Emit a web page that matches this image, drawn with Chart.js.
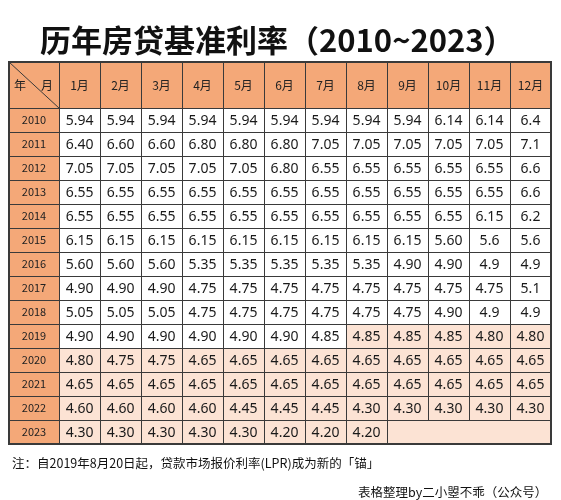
<!DOCTYPE html>
<html><head><meta charset="utf-8">
<script src="https://cdn.jsdelivr.net/npm/chart.js@4/dist/chart.umd.min.js"></script>
<style>
body{margin:0;background:#fff;width:561px;height:500px;overflow:hidden;font-family:"Noto Sans CJK SC",sans-serif;}
#wrap{position:absolute;left:0;top:0;width:561px;height:500px;}
.t{position:absolute;white-space:nowrap;color:#111;}
</style></head><body>
<div id="wrap"><canvas id="c" width="561" height="500"></canvas></div>
<div class="t" style="left:40px;top:16px;font-size:31px;font-weight:bold;">历年房贷基准利率（2010~2023）</div>
<div class="t" style="left:12px;top:453px;font-size:12.5px;">注：自2019年8月20日起，贷款市场报价利率(LPR)成为新的「锚」</div>
<div class="t" style="left:358px;top:482px;font-size:12.5px;">表格整理by二小曌不乖（公众号）</div>
<script>
const months = ["1月","2月","3月","4月","5月","6月","7月","8月","9月","10月","11月","12月"];
const years = ["2010","2011","2012","2013","2014","2015","2016","2017","2018","2019","2020","2021","2022","2023"];
const r2010 = ["5.94","5.94","5.94","5.94","5.94","5.94","5.94","5.94","5.94","6.14","6.14","6.4"];
const r2011 = ["6.40","6.60","6.60","6.80","6.80","6.80","7.05","7.05","7.05","7.05","7.05","7.1"];
const r2012 = ["7.05","7.05","7.05","7.05","7.05","6.80","6.55","6.55","6.55","6.55","6.55","6.6"];
const r2013 = ["6.55","6.55","6.55","6.55","6.55","6.55","6.55","6.55","6.55","6.55","6.55","6.6"];
const r2014 = ["6.55","6.55","6.55","6.55","6.55","6.55","6.55","6.55","6.55","6.55","6.15","6.2"];
const r2015 = ["6.15","6.15","6.15","6.15","6.15","6.15","6.15","6.15","6.15","5.60","5.6","5.6"];
const r2016 = ["5.60","5.60","5.60","5.35","5.35","5.35","5.35","5.35","4.90","4.90","4.9","4.9"];
const r2017 = ["4.90","4.90","4.90","4.75","4.75","4.75","4.75","4.75","4.75","4.75","4.75","5.1"];
const r2018 = ["5.05","5.05","5.05","4.75","4.75","4.75","4.75","4.75","4.75","4.90","4.9","4.9"];
const r2019 = ["4.90","4.90","4.90","4.90","4.90","4.90","4.85","4.85","4.85","4.85","4.80","4.80"];
const r2020 = ["4.80","4.75","4.75","4.65","4.65","4.65","4.65","4.65","4.65","4.65","4.65","4.65"];
const r2021 = ["4.65","4.65","4.65","4.65","4.65","4.65","4.65","4.65","4.65","4.65","4.65","4.65"];
const r2022 = ["4.60","4.60","4.60","4.60","4.45","4.45","4.45","4.30","4.30","4.30","4.30","4.30"];
const r2023 = ["4.30","4.30","4.30","4.30","4.30","4.20","4.20","4.20","","","",""];
const rates = [r2010,r2011,r2012,r2013,r2014,r2015,r2016,r2017,r2018,r2019,r2020,r2021,r2022,r2023];
const lprStartYear = 9, lprStartMonth = 7; // 2019, Aug

const YC = 1.22;  // year column width in month units
const HR = 1.92;  // header row height in row units
const ORANGE="#F4A878", PINK="#FCE3D4", LINE="#3a3a3a";
const pts=[];
rates.forEach((row,yi)=>row.forEach((v,mi)=>{ if(v!=="") pts.push({x:YC+mi+0.5,y:HR+yi+0.5,v:parseFloat(v),label:v}); }));

const tablePlugin={id:"table",beforeDatasetsDraw(chart){
  const {ctx,scales:{x,y}}=chart;
  const X=v=>x.getPixelForValue(v), Y=v=>y.getPixelForValue(v);
  const XR=YC+12, YB=HR+14;
  ctx.save();
  ctx.fillStyle=ORANGE; ctx.fillRect(X(0),Y(0),X(XR)-X(0),Y(HR)-Y(0));
  ctx.fillRect(X(0),Y(0),X(YC)-X(0),Y(YB)-Y(0));
  for(let yi=0;yi<years.length;yi++)for(let mi=0;mi<12;mi++){
    const lpr = yi>lprStartYear || (yi===lprStartYear && mi>=lprStartMonth);
    ctx.fillStyle=lpr?PINK:"#fff";
    ctx.fillRect(X(YC+mi),Y(HR+yi),X(YC+mi+1)-X(YC+mi),Y(HR+yi+1)-Y(HR+yi));
  }
  ctx.strokeStyle=LINE; ctx.lineWidth=1;
  ctx.beginPath();
  const rowsY=[0]; for(let r=0;r<=14;r++) rowsY.push(HR+r);
  rowsY.forEach(r=>{const yy=Math.round(Y(r))+0.5;ctx.moveTo(X(0),yy);ctx.lineTo(X(XR),yy);});
  const colsX=[0]; for(let c=0;c<=12;c++) colsX.push(YC+c);
  colsX.forEach((c,i)=>{const xx=Math.round(X(c))+0.5;
    const yEnd = (i>=10 && i<13) ? Y(YB-1) : Y(YB);
    ctx.moveTo(xx,Y(0));ctx.lineTo(xx,yEnd);});
  ctx.moveTo(X(0),Y(0));ctx.lineTo(X(YC),Y(HR));
  ctx.stroke();
  ctx.lineWidth=2;ctx.strokeRect(X(0),Y(0),X(XR)-X(0),Y(YB)-Y(0));
  ctx.fillStyle="#222";ctx.textAlign="center";ctx.textBaseline="middle";
  ctx.font='12px "Noto Sans CJK SC"';
  months.forEach((m,i)=>ctx.fillText(m,X(YC+i+0.5),Y(HR/2)));
  ctx.textAlign="left";ctx.fillText("年",X(0)+5,Y(HR/2));ctx.textAlign="right";ctx.fillText("月",X(YC)-6,Y(HR/2));
  ctx.textAlign="center";ctx.font='11px "Noto Sans CJK SC"';
  years.forEach((yr,i)=>ctx.fillText(yr,X(YC/2),Y(HR+i+0.5)));
  ctx.restore();
},afterDatasetsDraw(chart){
  const {ctx}=chart; const meta=chart.getDatasetMeta(0);
  ctx.save();ctx.fillStyle="#1a1a1a";ctx.textAlign="center";ctx.textBaseline="middle";
  ctx.font='14px "Noto Sans"';
  meta.data.forEach((el,i)=>ctx.fillText(pts[i].label,el.x,el.y+1));
  ctx.restore();
}};

new Chart(document.getElementById("c"),{
  type:"scatter",
  data:{datasets:[{data:pts,pointRadius:0,pointHoverRadius:0}]},
  options:{responsive:false,animation:false,events:[],
    layout:{padding:{left:9,right:10,top:62,bottom:56}},
    plugins:{legend:{display:false},tooltip:{enabled:false}},
    scales:{
      x:{type:"linear",min:0,max:YC+12,display:false},
      y:{type:"linear",min:0,max:HR+14,reverse:true,display:false}
    }},
  plugins:[tablePlugin]
});
</script></body></html>
